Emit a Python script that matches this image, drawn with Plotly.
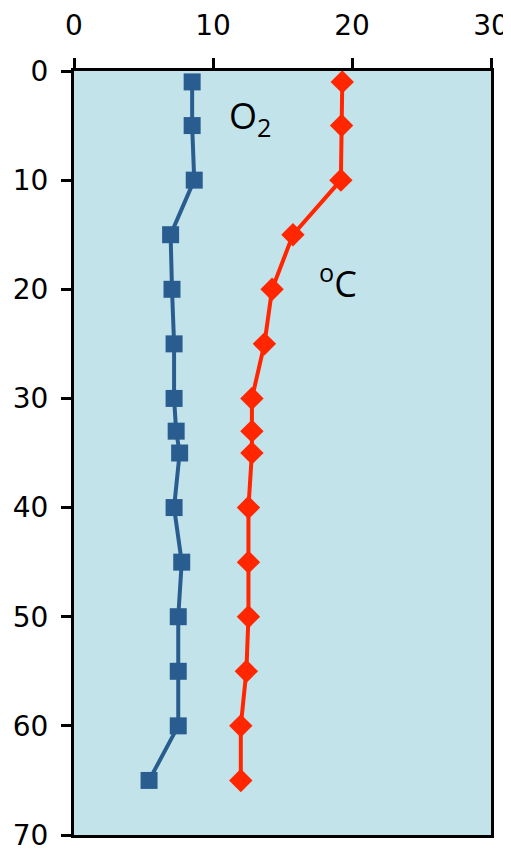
import plotly.graph_objects as go

depth = [1, 5, 10, 15, 20, 25, 30, 33, 35, 40, 45, 50, 55, 60, 65]
oxygen = [8.5, 8.5, 8.65, 6.95, 7.05, 7.2, 7.2, 7.35, 7.6, 7.2, 7.75, 7.5, 7.5, 7.5, 5.4]
temperature = [19.3, 19.25, 19.2, 15.75, 14.25, 13.7, 12.8, 12.8, 12.8, 12.55, 12.55, 12.55, 12.4, 12.0, 12.0]

x_ticks = [0, 10, 20, 30]
y_ticks = [0, 10, 20, 30, 40, 50, 60, 70]

fig = go.Figure()
fig.add_trace(go.Scatter(
    x=oxygen, y=depth, mode="lines+markers",
    line=dict(color="#2A5D8F", width=4),
    marker=dict(symbol="square", size=17, color="#2A5D8F"),
    showlegend=False, cliponaxis=False,
))
fig.add_trace(go.Scatter(
    x=temperature, y=depth, mode="lines+markers",
    line=dict(color="#FF2600", width=4),
    marker=dict(symbol="diamond", size=18, color="#FF2600"),
    showlegend=False, cliponaxis=False,
))

fig.add_annotation(x=11.0, y=4.3, xref="x", yref="y", text="O<sub>2</sub>",
                   showarrow=False, xanchor="left", yanchor="middle",
                   font=dict(family="Open Sans", size=36, color="black"))
fig.add_annotation(x=17.5, y=19.3, xref="x", yref="y", text="<sup>o</sup>C",
                   showarrow=False, xanchor="left", yanchor="middle",
                   font=dict(family="Open Sans", size=36, color="black"))

axis_font = dict(family="DejaVu Sans", size=28, color="black")
fig.update_layout(
    width=503, height=842,
    margin=dict(l=66, r=20, t=63, b=15),
    paper_bgcolor="white",
    plot_bgcolor="#C3E3EB",
    xaxis=dict(range=[0, 30], side="top", tickvals=x_ticks, showgrid=False, zeroline=False,
               showline=True, linecolor="black", linewidth=3, mirror=True,
               ticks="outside", ticklen=10, tickwidth=3, tickcolor="black",
               tickfont=axis_font, ticklabelstandoff=12, automargin=False,
               ticklabeloverflow="allow"),
    yaxis=dict(range=[70, 0], tickvals=y_ticks, showgrid=False, zeroline=False,
               showline=True, linecolor="black", linewidth=3, mirror=True,
               ticks="outside", ticklen=10, tickwidth=3, tickcolor="black",
               tickfont=axis_font, ticklabelstandoff=7, automargin=False,
               ticklabeloverflow="allow"),
)

fig.write_html("out.html")
